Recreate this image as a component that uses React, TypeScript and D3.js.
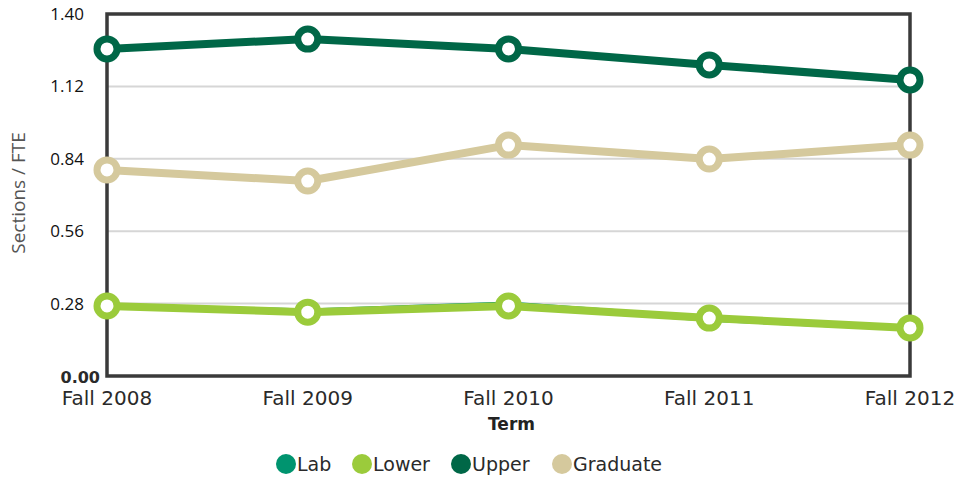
import React, { useEffect, useRef } from "react";
import * as d3 from "d3";

const terms = ["Fall 2008", "Fall 2009", "Fall 2010", "Fall 2011", "Fall 2012"];
const labValues = [0.271, 0.249, 0.277, 0.221, 0.186];
const lowerValues = [0.271, 0.247, 0.271, 0.224, 0.186];
const upperValues = [1.265, 1.303, 1.265, 1.203, 1.145];
const graduateValues = [0.797, 0.754, 0.893, 0.839, 0.893];
const yTicks = [0, 0.28, 0.56, 0.84, 1.12, 1.4];
const seriesNames = ["Lab", "Lower", "Upper", "Graduate"];
const seriesColors = ["#00946f", "#9bcb3b", "#006747", "#d5c99d"];

const App = () => {
  const svgRef = useRef<SVGSVGElement>(null);

  useEffect(() => {
    const svg = d3.select(svgRef.current);
    svg.selectAll("*").remove();

    const margin = { top: 14, right: 51, bottom: 105, left: 107 };
    const W = 961, H = 481;
    const width = W - margin.left - margin.right;
    const height = H - margin.top - margin.bottom;
    const font = "'Open Sans', sans-serif";
    const dejavu = "'DejaVu Sans', sans-serif";

    const x = d3.scalePoint().domain(terms).range([0, width]);
    const y = d3.scaleLinear().domain([0, 1.4]).range([height, 0]);

    const g = svg.append("g").attr("transform", `translate(${margin.left},${margin.top})`);

    // gridlines
    g.selectAll(".grid")
      .data(yTicks.filter(t => t > 0 && t < 1.4))
      .enter()
      .append("line")
      .attr("x1", 0)
      .attr("x2", width)
      .attr("y1", d => y(d))
      .attr("y2", d => y(d))
      .attr("stroke", "#d6d6d6")
      .attr("stroke-width", 2);

    // frame
    g.append("rect")
      .attr("x", 0)
      .attr("y", 0)
      .attr("width", width)
      .attr("height", height)
      .attr("fill", "none")
      .attr("stroke", "#3a3a3a")
      .attr("stroke-width", 3.5);

    // y tick labels
    g.selectAll(".ytick")
      .data(yTicks.filter(t => t > 0))
      .enter()
      .append("text")
      .attr("x", -23)
      .attr("y", d => y(d))
      .attr("dy", "0.35em")
      .attr("text-anchor", "end")
      .attr("font-family", font)
      .attr("font-size", 17)
      .attr("fill", "#111")
      .text(d => d3.format(".2f")(d));

    g.append("text")
      .attr("x", -7)
      .attr("y", y(0) + 1)
      .attr("dy", "0.35em")
      .attr("text-anchor", "end")
      .attr("font-family", dejavu)
      .attr("font-weight", "bold")
      .attr("font-size", 16)
      .attr("fill", "#2a2a2a")
      .text("0.00");

    // x labels
    g.selectAll(".xtick")
      .data(terms)
      .enter()
      .append("text")
      .attr("x", d => x(d)!)
      .attr("y", height + 29)
      .attr("text-anchor", "middle")
      .attr("font-family", dejavu)
      .attr("font-size", 20)
      .attr("fill", "#2a2a2a")
      .text(d => d);

    g.append("text")
      .attr("x", width / 2 + 3)
      .attr("y", height + 54)
      .attr("text-anchor", "middle")
      .attr("font-family", dejavu)
      .attr("font-weight", "bold")
      .attr("font-size", 17)
      .attr("fill", "#222")
      .text("Term");

    g.append("text")
      .attr("transform", `translate(${-89},${193 - margin.top}) rotate(-90)`)
      .attr("text-anchor", "middle")
      .attr("dy", "0.35em")
      .attr("font-family", font)
      .attr("font-size", 19)
      .attr("fill", "#555")
      .text("Sections / FTE");

    const allSeries = [labValues, lowerValues, upperValues, graduateValues];
    const line = d3.line<number>()
      .x((d, i) => x(terms[i])!)
      .y(d => y(d));

    allSeries.forEach((vals, si) => {
      g.append("path")
        .datum(vals)
        .attr("d", line)
        .attr("fill", "none")
        .attr("stroke", seriesColors[si])
        .attr("stroke-width", si === 0 ? 6 : 8)
        .attr("stroke-linejoin", "round");
      g.selectAll(`.pt${si}`)
        .data(vals)
        .enter()
        .append("circle")
        .attr("cx", (d, i) => x(terms[i])!)
        .attr("cy", d => y(d))
        .attr("r", si === 0 ? 8 : 10)
        .attr("fill", "#fff")
        .attr("stroke", seriesColors[si])
        .attr("stroke-width", 7);
    });

    // legend
    const legendX = [286, 362, 461, 562];
    const legend = svg.append("g").attr("transform", "translate(0,464)");
    seriesNames.forEach((name, i) => {
      legend.append("circle")
        .attr("cx", legendX[i])
        .attr("cy", 0)
        .attr("r", 10)
        .attr("fill", seriesColors[i]);
      legend.append("text")
        .attr("x", legendX[i] + 11)
        .attr("y", 0)
        .attr("dy", "0.36em")
        .attr("font-family", dejavu)
        .attr("font-size", 19)
        .attr("fill", "#2a2a2a")
        .text(name);
    });
  }, []);

  return (
    <div style={{ position: "absolute", left: 0, top: 0 }}>
      <svg ref={svgRef} width={961} height={481} style={{ display: "block", background: "#fff" }} />
    </div>
  );
};

export default App;
